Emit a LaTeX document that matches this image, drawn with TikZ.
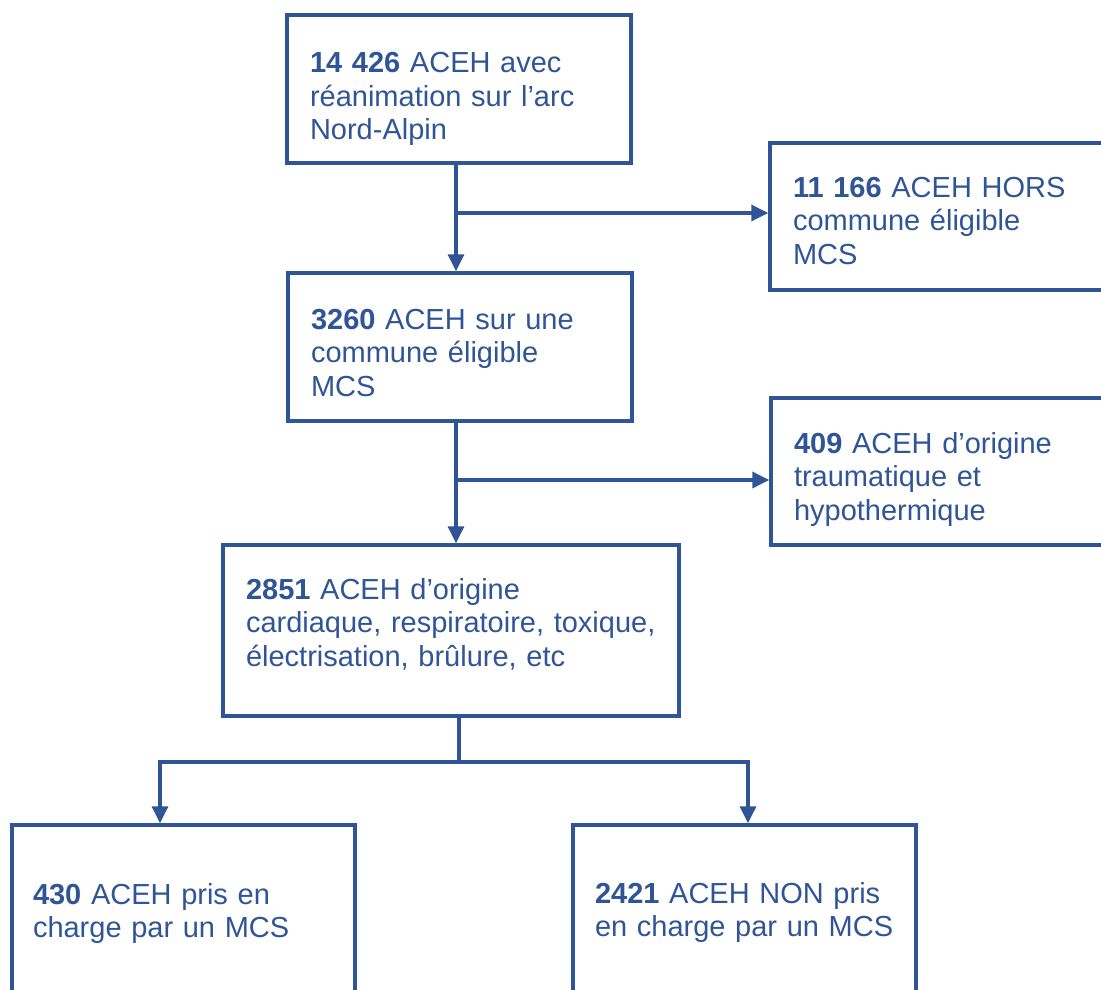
\documentclass[tikz,border=0pt]{standalone}
\usepackage{fontspec}
\setmainfont{Liberation Sans}
\usetikzlibrary{arrows.meta}
\definecolor{flowblue}{HTML}{2F5597}

\begin{document}
\begin{tikzpicture}[x=1pt,y=1pt,line width=3.5pt,
		box/.style={draw=flowblue, rectangle, inner xsep=23pt, align=left,
			text=flowblue, font=\fontsize{29}{33.3}\selectfont, text height=20pt},
		drop/.style={text depth=#1},
		arr/.style={-{Triangle[length=17pt,width=16pt]}, draw=flowblue}]
		\clip (0,0) rectangle (1101,-990);
		
		% main column
		\node[box, drop=52pt, minimum width=344, minimum height=148, text width=298] (start) at (459,-89)
		{\textbf{14~426} ACEH avec\\ réanimation sur l’arc\\ Nord-Alpin};
		\node[box, drop=55pt, minimum width=344, minimum height=148, text width=298] (elig) at (460,-347)
		{\textbf{3260} ACEH sur une\\ commune éligible\\ MCS};
		\node[box, drop=82pt, minimum width=456, minimum height=171, text width=410] (card) at (451,-630.5)
		{\textbf{2851} ACEH d’origine\\ cardiaque, respiratoire, toxique,\\ électrisation, brûlure, etc};
		
		% side
		\node[box, drop=58pt, minimum width=344, minimum height=147, text width=298] (hors) at (942,-216.5)
		{\textbf{11~166} ACEH HORS\\ commune éligible\\ MCS};
		\node[box, drop=56pt, minimum width=344, minimum height=147, text width=298] (trauma) at (943,-471.5)
		{\textbf{409} ACEH d’origine\\ traumatique et\\ hypothermique};
		
		% bottom
		\node[box, drop=40pt, minimum width=343, minimum height=178, inner xsep=21pt, text width=301] (mcs) at (183.5,-914)
		{\textbf{430} ACEH pris en\\ charge par un MCS};
		\node[box, drop=42pt, minimum width=343, minimum height=178, inner xsep=22pt, text width=299] (nonmcs) at (744.5,-914)
		{\textbf{2421} ACEH NON pris\\ en charge par un MCS};
		
		% arrows
		\coordinate (j1) at (456,-213);
		\coordinate (j2) at (456,-480);
		\coordinate (j3) at (459,-762);
		\coordinate (kl) at (160,-762);
		\coordinate (kr) at (748,-762);
		
		\draw[arr] (start.south -| j1) -- (elig.north -| j1);
		\draw[arr] (j1) -- (hors.west |- j1);
		\draw[arr] (elig.south -| j2) -- (card.north -| j2);
		\draw[arr] (j2) -- (trauma.west |- j2);
		\draw[draw=flowblue] (card.south -| j3) -- (j3);
		\draw[arr] (j3) -- (kl) -- (kl |- mcs.north);
		\draw[arr] (j3) -- (kr) -- (kr |- nonmcs.north);
\end{tikzpicture}
\end{document}
